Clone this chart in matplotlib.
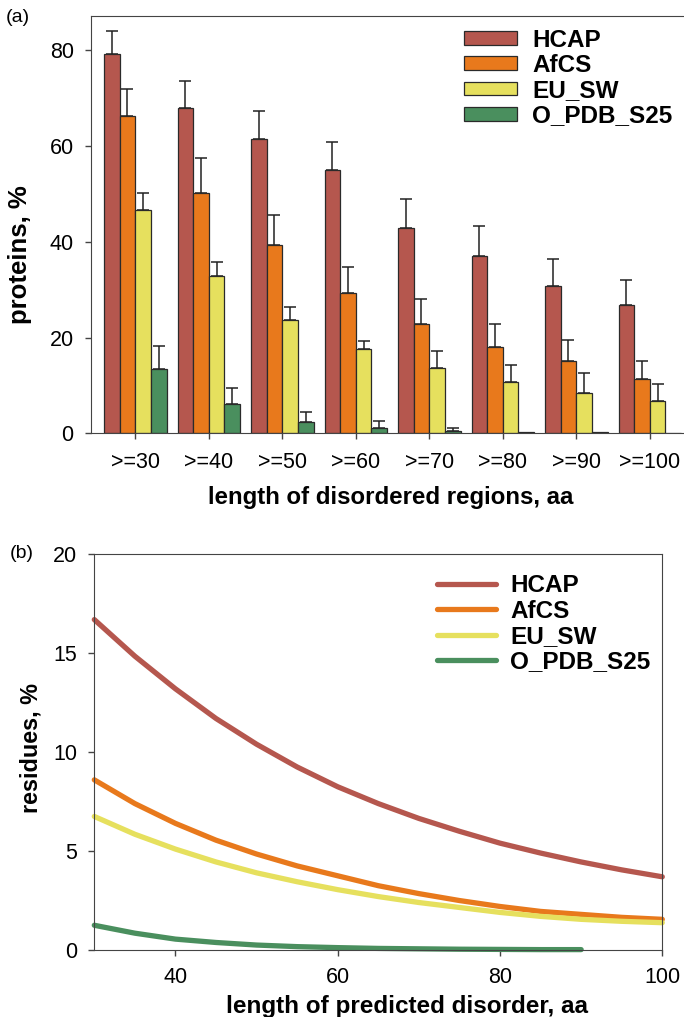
import numpy as np
import matplotlib
matplotlib.use("Agg")
from matplotlib import pyplot as plt

plt.rcParams['font.family'] = ['Liberation Sans', 'DejaVu Sans']

# panel (a) data
categories = ['>=30', '>=40', '>=50', '>=60', '>=70', '>=80', '>=90', '>=100']
hcap = [79.3, 67.9, 61.4, 55.0, 42.8, 37.1, 30.7, 26.8]
hcap_err = [4.7, 5.8, 5.9, 5.9, 6.1, 6.3, 5.7, 5.2]
afcs = [66.3, 50.3, 39.3, 29.3, 22.9, 18.0, 15.1, 11.3]
afcs_err = [5.6, 7.2, 6.3, 5.4, 5.2, 4.9, 4.5, 3.8]
eusw = [46.7, 32.8, 23.7, 17.6, 13.7, 10.7, 8.4, 6.7]
eusw_err = [3.5, 3.0, 2.6, 1.7, 3.6, 3.6, 4.1, 3.5]
opdb = [13.5, 6.1, 2.3, 1.2, 0.5, 0.3, 0.3, 0.0]
opdb_err = [4.7, 3.3, 2.1, 1.4, 0.7, np.nan, np.nan, np.nan]

# panel (b) data
length = [30, 35, 40, 45, 50, 55, 60, 65, 70, 75, 80, 85, 90, 95, 100]
hcap_res = [16.7, 14.85, 13.2, 11.7, 10.4, 9.25, 8.25, 7.4, 6.65, 6.0, 5.4, 4.9, 4.45, 4.05, 3.7]
afcs_res = [8.6, 7.4, 6.4, 5.55, 4.85, 4.25, 3.75, 3.25, 2.85, 2.5, 2.2, 1.95, 1.8, 1.65, 1.55]
eusw_res = [6.75, 5.85, 5.1, 4.45, 3.9, 3.45, 3.05, 2.7, 2.4, 2.15, 1.9, 1.7, 1.55, 1.45, 1.38]
length_opdb = [30, 35, 40, 45, 50, 55, 60, 65, 70, 75, 80, 85, 90]
opdb_res = [1.25, 0.85, 0.55, 0.38, 0.25, 0.17, 0.12, 0.08, 0.06, 0.04, 0.03, 0.02, 0.02]

names = ['HCAP', 'AfCS', 'EU_SW', 'O_PDB_S25']
colors = ['#b5574e', '#e8791c', '#e6e05e', '#4a8f5e']

W, H = 684, 1017
fig = plt.figure(figsize=(W / 100, H / 100), dpi=100)

# ---------- (a) ----------
ax1 = fig.add_axes([91 / W, 1 - 433.3 / H, 1 - 91 / W, (433.3 - 16) / H])
x = np.arange(len(categories))
bw = 0.213
series = [(hcap, hcap_err), (afcs, afcs_err), (eusw, eusw_err), (opdb, opdb_err)]
for i, (vals, errs) in enumerate(series):
    pos = x + (i - 1.5) * bw
    ax1.bar(pos, vals, bw, color=colors[i], edgecolor='#2a2a2a', linewidth=0.9,
            label=names[i], zorder=2)
    vals = np.array(vals, dtype=float)
    errs = np.array(errs, dtype=float)
    ok = ~np.isnan(errs)
    ax1.errorbar(pos[ok], vals[ok], yerr=[np.zeros(ok.sum()), errs[ok]], fmt='none',
                 ecolor='#222222', elinewidth=1.1, capsize=4.5, capthick=1.1, zorder=1)

ax1.set_xlim(-0.603, 7.465)
ax1.set_ylim(0, 87.2)
ax1.set_yticks([0, 20, 40, 60, 80])
ax1.set_xticks(x)
ax1.set_xticklabels(categories)
ax1.spines['right'].set_visible(False)
for s in ax1.spines.values():
    s.set_color('#444444')
ax1.tick_params(axis='both', direction='out', length=4.5, width=1, colors='#444444',
                labelcolor='black', labelsize=15.5)
ax1.tick_params(axis='x', pad=9)
ax1.tick_params(axis='y', pad=8)
ax1.set_ylabel('proteins, %', fontsize=18.5, fontweight='bold')
ax1.yaxis.set_label_coords(-0.0995, 0.427)
ax1.set_xlabel('length of disordered regions, aa', fontsize=17.3, fontweight='bold')
ax1.xaxis.set_label_coords(0.505, -0.127)
leg1 = ax1.legend(loc='upper right', bbox_to_anchor=(1.017, 1.022), frameon=False,
                  prop={'size': 17.5, 'weight': 'bold'}, handlelength=2.2, handleheight=0.5,
                  labelspacing=0.09, handletextpad=0.6)
fig.text(18 / W, 1 - 18 / H, '(a)', fontsize=14, ha='center', va='center')

# ---------- (b) ----------
ax2 = fig.add_axes([94.3 / W, 1 - 950 / H, (662.3 - 94.3) / W, (950 - 554.3) / H])
ax2.plot(length, hcap_res, color=colors[0], lw=3.8, solid_capstyle='round', label=names[0], clip_on=False)
ax2.plot(length, afcs_res, color=colors[1], lw=3.8, solid_capstyle='round', label=names[1], clip_on=False)
ax2.plot(length, eusw_res, color=colors[2], lw=3.8, solid_capstyle='round', label=names[2], clip_on=False)
ax2.plot(length_opdb, opdb_res, color=colors[3], lw=3.8, solid_capstyle='round', label=names[3], clip_on=False)
ax2.set_xlim(30, 100)
ax2.set_ylim(0, 20)
ax2.set_xticks([40, 60, 80, 100])
ax2.set_yticks([0, 5, 10, 15, 20])
for s in ax2.spines.values():
    s.set_color('#444444')
ax2.tick_params(axis='both', direction='out', length=4.5, width=1, colors='#444444',
                labelcolor='black', labelsize=15.5)
ax2.tick_params(axis='x', pad=8)
ax2.tick_params(axis='y', pad=8)
ax2.set_ylabel('residues, %', fontsize=16.8, fontweight='bold')
ax2.yaxis.set_label_coords(-0.092, 0.51)
ax2.set_xlabel('length of predicted disorder, aa', fontsize=17.5, fontweight='bold')
ax2.xaxis.set_label_coords(0.5505, -0.114)
ax2.legend(loc='upper right', bbox_to_anchor=(1.018, 1.005), frameon=False,
           prop={'size': 17.5, 'weight': 'bold'}, handlelength=2.4,
           labelspacing=0.1, handletextpad=0.6)
fig.text(22 / W, 1 - 553 / H, '(b)', fontsize=14, ha='center', va='center')

fig.savefig('out.png', dpi=100)
